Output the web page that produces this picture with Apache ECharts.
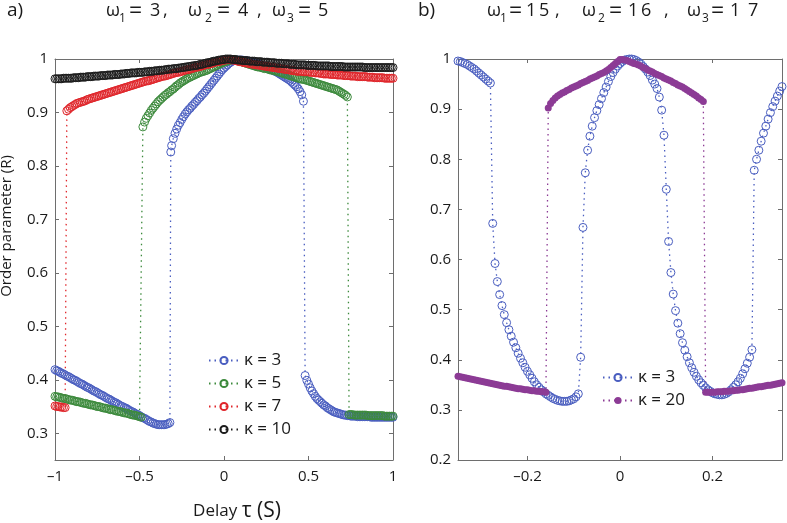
<!DOCTYPE html>
<html><head><meta charset="utf-8">
<script src="https://cdn.jsdelivr.net/npm/echarts@6.0.0/dist/echarts.min.js"></script>
<style>html,body{margin:0;padding:0;background:#fff}#c{width:787px;height:523px}</style>
</head><body><div id="c"></div>
<script>
// ---------- Panel a) : omega = 3,4,5  (tau, R) ----------
const kappaA3 = [
[-1,.419],[-0.99,.417],[-0.98,.416],[-0.97,.414],[-0.96,.412],[-0.95,.411],[-0.94,.409],[-0.93,.407],[-0.92,.406],[-0.91,.404],[-0.9,.402],[-0.89,.400],[-0.88,.399],[-0.87,.397],[-0.86,.395],[-0.85,.393],[-0.84,.392],[-0.83,.390],[-0.82,.388],[-0.81,.386],[-0.8,.385],[-0.79,.383],[-0.78,.381],[-0.77,.379],[-0.76,.378],[-0.75,.376],[-0.74,.374],[-0.73,.372],[-0.72,.371],[-0.71,.369],[-0.7,.367],[-0.69,.365],[-0.68,.364],[-0.67,.362],[-0.66,.360],[-0.65,.358],[-0.64,.357],[-0.63,.355],[-0.62,.353],[-0.61,.351],[-0.6,.350],[-0.59,.348],[-0.58,.347],[-0.57,.345],[-0.56,.343],[-0.55,.341],[-0.54,.340],[-0.53,.338],[-0.52,.336],[-0.51,.335],[-0.5,.333],[-0.49,.331],[-0.48,.329],[-0.47,.328],[-0.46,.326],[-0.45,.324],[-0.44,.322],[-0.43,.321],[-0.42,.319],[-0.41,.318],[-0.4,.317],[-0.39,.316],[-0.38,.316],[-0.37,.316],[-0.36,.316],[-0.35,.316],[-0.34,.317],[-0.33,.318],[-0.32,.320],
[-0.315,.826],[-0.31,.838],[-0.3,.851],[-0.29,.861],[-0.28,.869],[-0.27,.876],[-0.26,.881],[-0.25,.887],[-0.24,.892],[-0.23,.897],[-0.22,.901],[-0.21,.905],[-0.2,.908],[-0.19,.912],[-0.18,.915],[-0.17,.919],[-0.16,.922],[-0.15,.926],[-0.14,.929],[-0.13,.933],[-0.12,.936],[-0.11,.940],[-0.1,.944],[-0.09,.948],[-0.08,.952],[-0.07,.956],[-0.06,.960],[-0.05,.964],[-0.04,.968],[-0.03,.972],[-0.02,.976],[-0.01,.980],[0,.983],[0.01,.986],[0.02,.989],[0.03,.992],[0.04,.994],[0.05,.996],[0.06,.997],[0.07,.998],[0.08,.998],[0.09,.998],[0.1,.998],[0.11,.998],[0.12,.997],[0.13,.997],[0.14,.996],[0.15,.996],[0.16,.995],[0.17,.994],[0.18,.993],[0.19,.992],[0.2,.991],[0.21,.990],[0.22,.989],[0.23,.988],[0.24,.986],[0.25,.985],[0.26,.983],[0.27,.982],[0.28,.980],[0.29,.979],[0.3,.977],[0.31,.976],[0.32,.974],[0.33,.972],[0.34,.970],[0.35,.968],[0.36,.966],[0.37,.964],[0.38,.962],[0.39,.960],[0.4,.957],[0.41,.954],[0.42,.951],[0.43,.948],[0.44,.944],[0.45,.939],[0.46,.933],[0.47,.921],
[0.48,.408],[0.49,.399],[0.5,.392],[0.51,.385],[0.52,.379],[0.53,.374],[0.54,.369],[0.55,.365],[0.56,.362],[0.57,.359],[0.58,.356],[0.59,.353],[0.6,.351],[0.61,.348],[0.62,.346],[0.63,.344],[0.64,.342],[0.65,.340],[0.66,.339],[0.67,.338],[0.68,.337],[0.69,.336],[0.7,.335],[0.71,.334],[0.72,.334],[0.73,.333],[0.74,.333],[0.75,.332],[0.76,.332],[0.77,.332],[0.78,.332],[0.79,.331],[0.8,.331],[0.81,.331],[0.82,.331],[0.83,.331],[0.84,.331],[0.85,.331],[0.86,.331],[0.87,.330],[0.88,.330],[0.89,.330],[0.9,.330],[0.91,.330],[0.92,.330],[0.93,.330],[0.94,.330],[0.95,.330],[0.96,.330],[0.97,.330],[0.98,.330],[0.99,.330],[1,.330]];
const kappaA5 = [
[-1,.369],[-0.99,.368],[-0.98,.368],[-0.97,.367],[-0.96,.366],[-0.95,.365],[-0.94,.365],[-0.93,.364],[-0.92,.363],[-0.91,.362],[-0.9,.362],[-0.89,.361],[-0.88,.360],[-0.87,.359],[-0.86,.359],[-0.85,.358],[-0.84,.357],[-0.83,.356],[-0.82,.356],[-0.81,.355],[-0.8,.354],[-0.79,.353],[-0.78,.353],[-0.77,.352],[-0.76,.351],[-0.75,.350],[-0.74,.350],[-0.73,.349],[-0.72,.348],[-0.71,.347],[-0.7,.347],[-0.69,.346],[-0.68,.345],[-0.67,.344],[-0.66,.344],[-0.65,.343],[-0.64,.342],[-0.63,.341],[-0.62,.341],[-0.61,.340],[-0.6,.339],[-0.59,.338],[-0.58,.338],[-0.57,.337],[-0.56,.336],[-0.55,.335],[-0.54,.334],[-0.53,.334],[-0.52,.333],[-0.51,.332],[-0.5,.331],[-0.49,.330],
[-0.48,.873],[-0.47,.882],[-0.46,.889],[-0.45,.894],[-0.44,.899],[-0.43,.904],[-0.42,.908],[-0.41,.912],[-0.4,.916],[-0.39,.920],[-0.38,.923],[-0.37,.926],[-0.36,.929],[-0.35,.932],[-0.34,.934],[-0.33,.937],[-0.32,.939],[-0.31,.942],[-0.3,.944],[-0.29,.947],[-0.28,.950],[-0.27,.952],[-0.26,.955],[-0.25,.957],[-0.24,.959],[-0.23,.961],[-0.22,.963],[-0.21,.965],[-0.2,.966],[-0.19,.968],[-0.18,.969],[-0.17,.971],[-0.16,.972],[-0.15,.974],[-0.14,.975],[-0.13,.976],[-0.12,.977],[-0.11,.978],[-0.1,.979],[-0.09,.981],[-0.08,.982],[-0.07,.984],[-0.06,.985],[-0.05,.987],[-0.04,.988],[-0.03,.990],[-0.02,.991],[-0.01,.993],[0,.994],[0.01,.995],[0.02,.996],[0.03,.997],[0.04,.998],[0.05,.999],[0.06,.999],[0.07,.998],[0.08,.997],[0.09,.996],[0.1,.995],[0.11,.994],[0.12,.993],[0.13,.992],[0.14,.991],[0.15,.990],[0.16,.989],[0.17,.988],[0.18,.987],[0.19,.986],[0.2,.985],[0.21,.985],[0.22,.984],[0.23,.983],[0.24,.982],[0.25,.982],[0.26,.981],[0.27,.980],[0.28,.979],[0.29,.979],[0.3,.978],[0.31,.977],[0.32,.976],[0.33,.975],[0.34,.974],[0.35,.973],[0.36,.972],[0.37,.971],[0.38,.970],[0.39,.969],[0.4,.968],[0.41,.967],[0.42,.966],[0.43,.965],[0.44,.964],[0.45,.963],[0.46,.962],[0.47,.962],[0.48,.961],[0.49,.960],[0.5,.959],[0.51,.958],[0.52,.957],[0.53,.956],[0.54,.955],[0.55,.954],[0.56,.953],[0.57,.952],[0.58,.951],[0.59,.950],[0.6,.949],[0.61,.948],[0.62,.947],[0.63,.946],[0.64,.945],[0.65,.944],[0.66,.943],[0.67,.942],[0.68,.940],[0.69,.938],[0.7,.936],[0.71,.934],[0.72,.932],[0.73,.929],
[0.74,.335],[0.75,.335],[0.76,.335],[0.77,.334],[0.78,.334],[0.79,.334],[0.8,.334],[0.81,.334],[0.82,.334],[0.83,.334],[0.84,.334],[0.85,.333],[0.86,.333],[0.87,.333],[0.88,.333],[0.89,.333],[0.9,.333],[0.91,.333],[0.92,.333],[0.93,.333],[0.94,.333],[0.95,.332],[0.96,.332],[0.97,.332],[0.98,.332],[0.99,.332],[1,.332]];
const kappaA7 = [
[-1,.351],[-0.99,.350],[-0.98,.350],[-0.97,.349],[-0.96,.349],[-0.95,.348],[-0.94,.348],
[-0.93,.903],[-0.92,.906],[-0.91,.909],[-0.9,.911],[-0.89,.913],[-0.88,.915],[-0.87,.917],[-0.86,.918],[-0.85,.919],[-0.84,.920],[-0.83,.921],[-0.82,.922],[-0.81,.924],[-0.8,.925],[-0.79,.926],[-0.78,.927],[-0.77,.928],[-0.76,.929],[-0.75,.930],[-0.74,.931],[-0.73,.932],[-0.72,.933],[-0.71,.934],[-0.7,.935],[-0.69,.936],[-0.68,.937],[-0.67,.938],[-0.66,.939],[-0.65,.940],[-0.64,.941],[-0.63,.942],[-0.62,.943],[-0.61,.944],[-0.6,.945],[-0.59,.946],[-0.58,.947],[-0.57,.948],[-0.56,.949],[-0.55,.950],[-0.54,.951],[-0.53,.952],[-0.52,.953],[-0.51,.954],[-0.5,.955],[-0.49,.956],[-0.48,.957],[-0.47,.958],[-0.46,.959],[-0.45,.959],[-0.44,.960],[-0.43,.961],[-0.42,.962],[-0.41,.963],[-0.4,.964],[-0.39,.965],[-0.38,.966],[-0.37,.967],[-0.36,.968],[-0.35,.968],[-0.34,.969],[-0.33,.970],[-0.32,.971],[-0.31,.972],[-0.3,.973],[-0.29,.974],[-0.28,.975],[-0.27,.975],[-0.26,.976],[-0.25,.977],[-0.24,.978],[-0.23,.979],[-0.22,.980],[-0.21,.980],[-0.2,.981],[-0.19,.982],[-0.18,.983],[-0.17,.984],[-0.16,.985],[-0.15,.985],[-0.14,.986],[-0.13,.987],[-0.12,.988],[-0.11,.989],[-0.1,.990],[-0.09,.990],[-0.08,.991],[-0.07,.992],[-0.06,.993],[-0.05,.994],[-0.04,.995],[-0.03,.995],[-0.02,.996],[-0.01,.997],[0,.998],[0.01,.998],[0.02,.999],[0.03,.999],[0.04,.999],[0.05,.998],[0.06,.998],[0.07,.997],[0.08,.996],[0.09,.995],[0.1,.995],[0.11,.994],[0.12,.993],[0.13,.993],[0.14,.992],[0.15,.991],[0.16,.991],[0.17,.990],[0.18,.990],[0.19,.989],[0.2,.989],[0.21,.988],[0.22,.988],[0.23,.987],[0.24,.987],[0.25,.986],[0.26,.986],[0.27,.985],[0.28,.985],[0.29,.984],[0.3,.984],[0.31,.983],[0.32,.983],[0.33,.982],[0.34,.982],[0.35,.981],[0.36,.981],[0.37,.980],[0.38,.980],[0.39,.979],[0.4,.979],[0.41,.978],[0.42,.978],[0.43,.977],[0.44,.977],[0.45,.977],[0.46,.977],[0.47,.976],[0.48,.976],[0.49,.976],[0.5,.976],[0.51,.975],[0.52,.975],[0.53,.975],[0.54,.974],[0.55,.974],[0.56,.974],[0.57,.973],[0.58,.973],[0.59,.972],[0.6,.972],[0.61,.972],[0.62,.972],[0.63,.971],[0.64,.971],[0.65,.971],[0.66,.971],[0.67,.970],[0.68,.970],[0.69,.970],[0.7,.970],[0.71,.969],[0.72,.969],[0.73,.969],[0.74,.969],[0.75,.968],[0.76,.968],[0.77,.968],[0.78,.968],[0.79,.967],[0.8,.967],[0.81,.967],[0.82,.967],[0.83,.967],[0.84,.967],[0.85,.966],[0.86,.966],[0.87,.966],[0.88,.966],[0.89,.965],[0.9,.965],[0.91,.965],[0.92,.965],[0.93,.965],[0.94,.965],[0.95,.964],[0.96,.964],[0.97,.964],[0.98,.964],[0.99,.964],[1,.964]];
const kappaA10 = [
[-1,.963],[-0.99,.963],[-0.98,.963],[-0.97,.963],[-0.96,.963],[-0.95,.964],[-0.94,.964],[-0.93,.964],[-0.92,.964],[-0.91,.964],[-0.9,.964],[-0.89,.965],[-0.88,.965],[-0.87,.965],[-0.86,.965],[-0.85,.966],[-0.84,.966],[-0.83,.966],[-0.82,.966],[-0.81,.967],[-0.8,.967],[-0.79,.967],[-0.78,.967],[-0.77,.968],[-0.76,.968],[-0.75,.968],[-0.74,.968],[-0.73,.969],[-0.72,.969],[-0.71,.969],[-0.7,.969],[-0.69,.970],[-0.68,.970],[-0.67,.970],[-0.66,.970],[-0.65,.971],[-0.64,.971],[-0.63,.971],[-0.62,.971],[-0.61,.972],[-0.6,.972],[-0.59,.972],[-0.58,.973],[-0.57,.973],[-0.56,.973],[-0.55,.974],[-0.54,.974],[-0.53,.974],[-0.52,.974],[-0.51,.975],[-0.5,.975],[-0.49,.975],[-0.48,.975],[-0.47,.976],[-0.46,.976],[-0.45,.976],[-0.44,.977],[-0.43,.977],[-0.42,.977],[-0.41,.978],[-0.4,.978],[-0.39,.978],[-0.38,.979],[-0.37,.979],[-0.36,.979],[-0.35,.980],[-0.34,.980],[-0.33,.981],[-0.32,.981],[-0.31,.981],[-0.3,.982],[-0.29,.982],[-0.28,.982],[-0.27,.983],[-0.26,.983],[-0.25,.984],[-0.24,.984],[-0.23,.985],[-0.22,.985],[-0.21,.986],[-0.2,.986],[-0.19,.987],[-0.18,.987],[-0.17,.988],[-0.16,.988],[-0.15,.989],[-0.14,.990],[-0.13,.990],[-0.12,.991],[-0.11,.992],[-0.1,.993],[-0.09,.993],[-0.08,.994],[-0.07,.995],[-0.06,.996],[-0.05,.996],[-0.04,.997],[-0.03,.998],[-0.02,.998],[-0.01,.999],[0,.999],[0.01,1.0],[0.02,1.0],[0.03,1.0],[0.04,1.0],[0.05,.999],[0.06,.999],[0.07,.999],[0.08,.998],[0.09,.998],[0.1,.998],[0.11,.997],[0.12,.997],[0.13,.997],[0.14,.997],[0.15,.996],[0.16,.996],[0.17,.996],[0.18,.996],[0.19,.995],[0.2,.995],[0.21,.995],[0.22,.995],[0.23,.994],[0.24,.994],[0.25,.994],[0.26,.994],[0.27,.993],[0.28,.993],[0.29,.993],[0.3,.993],[0.31,.992],[0.32,.992],[0.33,.992],[0.34,.992],[0.35,.991],[0.36,.991],[0.37,.991],[0.38,.991],[0.39,.990],[0.4,.990],[0.41,.990],[0.42,.990],[0.43,.989],[0.44,.989],[0.45,.989],[0.46,.989],[0.47,.989],[0.48,.989],[0.49,.988],[0.5,.988],[0.51,.988],[0.52,.988],[0.53,.988],[0.54,.988],[0.55,.987],[0.56,.987],[0.57,.987],[0.58,.987],[0.59,.987],[0.6,.987],[0.61,.987],[0.62,.987],[0.63,.986],[0.64,.986],[0.65,.986],[0.66,.986],[0.67,.986],[0.68,.986],[0.69,.986],[0.7,.986],[0.71,.985],[0.72,.985],[0.73,.985],[0.74,.985],[0.75,.985],[0.76,.985],[0.77,.985],[0.78,.985],[0.79,.985],[0.8,.985],[0.81,.985],[0.82,.985],[0.83,.984],[0.84,.984],[0.85,.984],[0.86,.984],[0.87,.984],[0.88,.984],[0.89,.984],[0.9,.984],[0.91,.984],[0.92,.984],[0.93,.984],[0.94,.984],[0.95,.984],[0.96,.984],[0.97,.984],[0.98,.984],[0.99,.984],[1,.984]];

// ---------- Panel b) : omega = 15,16,17  (tau, R) ----------
const kappaB3 = [[-0.35,.996],[-0.345,.995],[-0.34,.993],[-0.335,.991],[-0.33,.989],[-0.325,.986],[-0.32,.983],[-0.315,.980],[-0.31,.976],[-0.305,.972],[-0.3,.968],[-0.295,.964],[-0.29,.960],[-0.285,.956],[-0.28,.952],
[-0.275,.672],[-0.27,.592],[-0.265,.556],[-0.26,.530],[-0.255,.508],[-0.25,.490],[-0.245,.474],[-0.24,.460],[-0.235,.447],[-0.23,.435],[-0.225,.424],[-0.22,.413],[-0.215,.403],[-0.21,.394],[-0.205,.385],[-0.2,.377],[-0.195,.370],[-0.19,.363],[-0.185,.356],[-0.18,.350],[-0.175,.345],[-0.17,.340],[-0.165,.336],[-0.16,.332],[-0.155,.329],[-0.15,.326],[-0.145,.323],[-0.14,.321],[-0.135,.319],[-0.13,.318],[-0.125,.317],[-0.12,.317],[-0.115,.317],[-0.11,.318],[-0.105,.320],[-0.1,.322],[-0.095,.326],[-0.09,.332],
[-0.085,.405],[-0.08,.664],[-0.075,.773],[-0.07,.818],[-0.065,.846],[-0.06,.866],[-0.055,.883],[-0.05,.897],[-0.045,.909],[-0.04,.921],[-0.035,.933],[-0.03,.944],[-0.025,.955],[-0.02,.965],[-0.015,.973],[-0.01,.980],[-0.005,.986],[0,.991],[0.005,.995],[0.01,.998],[0.015,.999],[0.02,1.0],[0.025,1.0],[0.03,.999],[0.035,.997],[0.04,.994],[0.045,.990],[0.05,.985],[0.055,.980],[0.06,.974],[0.065,.967],[0.07,.958],[0.075,.950],[0.08,.941],[0.085,.924],[0.09,.898],[0.095,.848],[0.1,.740],[0.105,.636],[0.11,.574],[0.115,.531],[0.12,.498],[0.125,.473],[0.13,.452],[0.135,.434],[0.14,.419],[0.145,.406],[0.15,.394],[0.155,.384],[0.16,.375],[0.165,.367],[0.17,.360],[0.175,.354],[0.18,.349],[0.185,.344],[0.19,.340],[0.195,.337],[0.2,.334],[0.205,.332],[0.21,.331],[0.215,.330],[0.22,.330],[0.225,.331],[0.23,.333],[0.235,.336],[0.24,.340],[0.245,.345],[0.25,.350],[0.255,.356],[0.26,.363],[0.265,.372],[0.27,.382],[0.275,.393],[0.28,.405],[0.285,.420],
[0.29,.778],[0.295,.800],[0.3,.818],[0.305,.836],[0.31,.852],[0.315,.866],[0.32,.880],[0.325,.893],[0.33,.905],[0.335,.916],[0.34,.926],[0.345,.936],[0.35,.945]];
const kappaB20 = [[-0.35,.367],[-0.345,.366],[-0.34,.365],[-0.335,.364],[-0.33,.363],[-0.325,.362],[-0.32,.361],[-0.315,.360],[-0.31,.359],[-0.305,.358],[-0.3,.357],[-0.295,.356],[-0.29,.355],[-0.285,.354],[-0.28,.353],[-0.275,.352],[-0.27,.351],[-0.265,.350],[-0.26,.349],[-0.255,.348],[-0.25,.347],[-0.245,.347],[-0.24,.346],[-0.235,.345],[-0.23,.344],[-0.225,.343],[-0.22,.342],[-0.215,.342],[-0.21,.341],[-0.205,.340],[-0.2,.340],[-0.195,.339],[-0.19,.338],[-0.185,.338],[-0.18,.337],[-0.175,.337],[-0.17,.336],[-0.165,.336],[-0.16,.335],
[-0.155,.902],[-0.15,.911],[-0.145,.917],[-0.14,.922],[-0.135,.926],[-0.13,.929],[-0.125,.932],[-0.12,.934],[-0.115,.937],[-0.11,.939],[-0.105,.942],[-0.1,.944],[-0.095,.946],[-0.09,.948],[-0.085,.951],[-0.08,.953],[-0.075,.955],[-0.07,.957],[-0.065,.960],[-0.06,.962],[-0.055,.964],[-0.05,.966],[-0.045,.969],[-0.04,.971],[-0.035,.973],[-0.03,.976],[-0.025,.979],[-0.02,.983],[-0.015,.987],[-0.01,.991],[-0.005,.995],[0,.999],[0.005,.999],[0.01,.998],[0.015,.997],[0.02,.995],[0.025,.993],[0.03,.991],[0.035,.990],[0.04,.988],[0.045,.986],[0.05,.983],[0.055,.981],[0.06,.978],[0.065,.976],[0.07,.974],[0.075,.971],[0.08,.969],[0.085,.967],[0.09,.965],[0.095,.962],[0.1,.960],[0.105,.958],[0.11,.956],[0.115,.953],[0.12,.951],[0.125,.948],[0.13,.946],[0.135,.944],[0.14,.941],[0.145,.938],[0.15,.935],[0.155,.932],[0.16,.929],[0.165,.926],[0.17,.922],[0.175,.919],[0.18,.915],
[0.185,.335],[0.19,.335],[0.195,.335],[0.2,.335],[0.205,.335],[0.21,.336],[0.215,.336],[0.22,.336],[0.225,.337],[0.23,.337],[0.235,.337],[0.24,.338],[0.245,.338],[0.25,.339],[0.255,.339],[0.26,.340],[0.265,.340],[0.27,.341],[0.275,.342],[0.28,.343],[0.285,.343],[0.29,.344],[0.295,.345],[0.3,.346],[0.305,.346],[0.31,.347],[0.315,.348],[0.32,.349],[0.325,.349],[0.33,.350],[0.335,.351],[0.34,.352],[0.345,.353],[0.35,.354]];

const namesA = ['κ = 3', 'κ = 5', 'κ = 7', 'κ = 10'];
const namesB = ['κ = 3 ', 'κ = 20'];

const FONT = '"Open Sans", "DejaVu Sans", sans-serif';
const AX = '#6e6e6e';
const TXT = '#1a1a1a';
const C = {blue:'#4a5ec0', green:'#3c8a3c', red:'#e0262b', black:'#1c1c1c', purple:'#8c3b95'};

function dash(v){ return String(v).replace('-', '\u2013'); }

function xAx(grid, min, max, opts, top){
  return Object.assign({
    type:'value', gridIndex:grid, min:min, max:max, position: top ? 'top' : 'bottom',
    axisLine:{show:true, onZero:false, lineStyle:{color:AX, width:1}},
    axisTick:{show:true, inside:true, length:4, lineStyle:{color:AX}},
    splitLine:{show:false},
    axisLabel:{show:!top, color:TXT, fontSize:15, fontFamily:FONT, margin:9, formatter:dash,
               showMinLabel:opts.hideEnds ? false : null, showMaxLabel:opts.hideEnds ? false : null}
  }, opts);
}
function yAx(grid, min, max, opts, right){
  return Object.assign({
    type:'value', gridIndex:grid, min:min, max:max, position: right ? 'right' : 'left',
    axisLine:{show:true, onZero:false, lineStyle:{color:AX, width:1}},
    axisTick:{show:true, inside:true, length:4, lineStyle:{color:AX}},
    splitLine:{show:false},
    axisLabel:{show:!right, color:TXT, fontSize:15, fontFamily:FONT, margin:7,
               showMinLabel:opts.hideMin ? false : null}
  }, opts);
}

function ser(name, data, color, xi, yi, filled, size){
  return {
    name:name, type:'line', xAxisIndex:xi, yAxisIndex:yi, data:data,
    symbol:'circle', symbolSize:size, showSymbol:true, clip:false, silent:true,
    lineStyle:{color:color, width:1.3, type:[1.5,4]},
    itemStyle: filled ? {color:color, borderWidth:0} : {color:'rgba(255,255,255,0)', borderColor:color, borderWidth:1},
    emphasis:{disabled:true}
  };
}

// Title pieces (text, left x, kind): m = main, s = subscript, e = equals sign, l = panel letter
const titleA = [['a)',7,'l'],['ω',106,'m'],['1',119,'s'],['=',129,'e'],['3',150,'m'],[',',163,'m'],['ω',188,'m'],['2',205,'s'],['=',217,'e'],['4',238,'m'],[',',257,'m'],['ω',272,'m'],['3',287,'s'],['=',298,'e'],['5',318,'m']];
const titleB = [['b)',418,'l'],['ω',487,'m'],['1',500,'s'],['=',509,'e'],['1',526,'m'],['5',539,'m'],[',',555,'m'],['ω',582,'m'],['2',598,'s'],['=',609,'e'],['1',628,'m'],['6',641,'m'],[',',664,'m'],['ω',687,'m'],['3',702,'s'],['=',711,'e'],['1',730,'m'],['7',748,'m']];
function titleGraphic(list){
  return list.map(function(p){
    const k = p[2];
    const fs = k === 's' ? 12 : (k === 'e' ? 23 : (k === 'l' ? 19 : 18));
    const y = k === 's' ? 19 : 11;
    return {type:'text', x:p[1], y:y, silent:true,
      style:{text:p[0], fontSize:fs, fontFamily:FONT, fill:TXT, align:'left', verticalAlign:'middle'}};
  });
}

const legendText = {fontSize:17, fontFamily:FONT, color:TXT};

const chart = echarts.init(document.getElementById('c'), null, {renderer:'canvas'});
chart.setOption({
  animation:false,
  backgroundColor:'#fff',
  grid:[
    {left:55, top:59, width:338, height:401, outerBoundsMode:'none', containLabel:false},
    {left:458, top:59, width:324, height:401, outerBoundsMode:'none', containLabel:false}
  ],
  xAxis:[
    xAx(0, -1, 1, {interval:0.5}, false),
    xAx(0, -1, 1, {interval:0.5}, true),
    xAx(1, -0.35, 0.35, {minInterval:0.2, maxInterval:0.2, hideEnds:true}, false),
    xAx(1, -0.35, 0.35, {minInterval:0.2, maxInterval:0.2, hideEnds:true}, true)
  ],
  yAxis:[
    yAx(0, 0.25, 1, {minInterval:0.1, maxInterval:0.1, hideMin:true}, false),
    yAx(0, 0.25, 1, {minInterval:0.1, maxInterval:0.1, hideMin:true}, true),
    yAx(1, 0.2, 1, {interval:0.1}, false),
    yAx(1, 0.2, 1, {interval:0.1}, true)
  ],
  legend:[
    {data:namesA, orient:'vertical', left:203, top:347, itemWidth:30, itemHeight:9, itemGap:6, selectedMode:false, textStyle:legendText},
    {data:namesB, orient:'vertical', left:597, top:364, itemWidth:30, itemHeight:9, itemGap:6, selectedMode:false, textStyle:legendText}
  ],
  graphic: titleGraphic(titleA).concat(titleGraphic(titleB)).concat([
    {type:'text', x:7, y:226, rotation:Math.PI/2, silent:true,
     style:{text:'Order parameter (R)', fontSize:15, fontFamily:FONT, fill:TXT, align:'center', verticalAlign:'middle'}},
    {type:'text', x:237, y:511, silent:true,
     style:{text:'{a|Delay }{b|τ (S)}', rich:{a:{fontSize:17, fontFamily:FONT, fill:TXT}, b:{fontSize:21, fontFamily:FONT, fill:TXT}}, align:'center', verticalAlign:'middle', fill:TXT}}
  ]),
  series:[
    ser(namesA[0], kappaA3, C.blue, 0, 0, false, 8),
    ser(namesA[1], kappaA5, C.green, 0, 0, false, 8),
    ser(namesA[2], kappaA7, C.red, 0, 0, false, 8),
    ser(namesA[3], kappaA10, C.black, 0, 0, false, 8),
    ser(namesB[0], kappaB3, C.blue, 2, 2, false, 8),
    ser(namesB[1], kappaB20, C.purple, 2, 2, true, 7)
  ]
});
</script></body></html>
